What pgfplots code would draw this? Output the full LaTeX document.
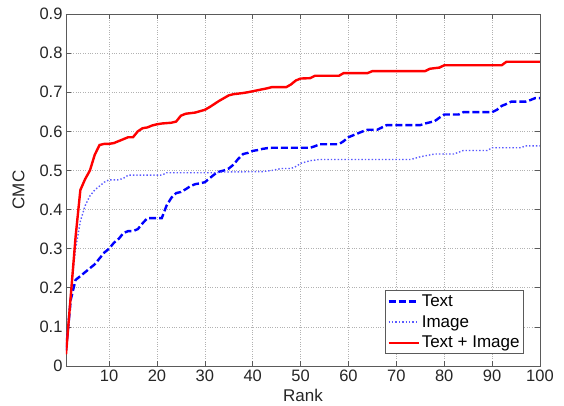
\documentclass[border=0pt]{standalone}
\usepackage{fontspec}
\setmainfont{Liberation Sans}
\usepackage{pgfplots}
\pgfplotsset{compat=1.18}

\definecolor{imgblue}{RGB}{90,90,255}
\definecolor{axgray}{RGB}{90,90,90}

\begin{document}
\begin{tikzpicture}
\begin{axis}[
    width=474pt, height=352pt,
    scale only axis,
    xmin=1, xmax=100,
    ymin=0, ymax=0.9,
    xtick={10,20,...,100},
    ytick={0,0.1,...,0.9},
    yticklabel style={/pgf/number format/fixed,/pgf/number format/precision=1},
    /pgf/number format/assume math mode=true,
    tick label style={font=\fontsize{16.5}{19}\selectfont, text=black!85},
    xlabel={Rank},
    ylabel={CMC},
    every axis x label/.style={at={(axis description cs:0.5,-0.084)}, anchor=center,
        font=\fontsize{17}{20}\selectfont, text=black!85},
    every axis y label/.style={at={(axis description cs:-0.1,0.5)}, anchor=center, rotate=90,
        font=\fontsize{17}{20}\selectfont, text=black!85},
    axis line style={axgray, line width=0.8pt},
    tick style={axgray, line width=0.6pt},
    major tick length=5pt,
    tick align=inside,
    grid=major,
    major grid style={dotted, gray!60, line width=0.6pt},
    legend style={at={(0.966,0.035)}, anchor=south east,
        font=\fontsize{17}{19}\selectfont, draw=axgray, line width=0.6pt,
        inner sep=2pt, row sep=3.5pt},
    legend cell align=left,
    legend image code/.code={\draw[#1] (0pt,0pt) -- (30pt,0pt);},
]
\addplot[blue, dashed, dash pattern=on 7pt off 3pt, line width=2.4pt] coordinates {
(1,0.04) (2,0.17) (3,0.22) (4,0.23) (5,0.24) (6,0.25) (7,0.26) (8,0.275)
(9,0.29) (10,0.30) (11,0.315) (12,0.325) (13,0.34) (14,0.345) (15,0.345)
(16,0.35) (17,0.365) (18,0.378) (19,0.378) (20,0.378) (21,0.378) (22,0.41)
(23,0.43) (24,0.442) (25,0.445) (26,0.452) (27,0.46) (28,0.465) (29,0.467)
(30,0.47) (31,0.48) (32,0.49) (33,0.497) (34,0.5) (35,0.505) (36,0.515)
(37,0.53) (38,0.542) (39,0.545) (40,0.55) (41,0.552) (42,0.555) (43,0.557)
(44,0.558) (48,0.558) (52,0.558) (53,0.562) (54,0.567) (58,0.567) (59,0.575)
(60,0.585) (61,0.59) (62,0.595) (63,0.6) (64,0.604) (66,0.604) (67,0.61)
(68,0.616) (72,0.616) (75,0.616) (76,0.62) (77,0.623) (78,0.626) (79,0.635)
(80,0.643) (83,0.643) (84,0.649) (87,0.649) (90,0.649) (91,0.655) (92,0.665)
(93,0.67) (94,0.676) (97,0.676) (98,0.68) (99,0.685) (100,0.685)
};
\addlegendentry{Text}
\addplot[imgblue, dotted, line width=1.4pt] coordinates {
(1,0.04) (2,0.19) (3,0.30) (4,0.37) (5,0.41) (6,0.435) (7,0.45) (8,0.46)
(9,0.47) (10,0.476) (12,0.476) (13,0.48) (14,0.488) (21,0.488) (22,0.494)
(32,0.494) (34,0.496) (42,0.497) (44,0.5) (46,0.505) (48,0.505) (49,0.51)
(50,0.518) (52,0.525) (54,0.528) (73,0.528) (75,0.535) (78,0.542) (82,0.542)
(84,0.551) (89,0.551) (90,0.558) (96,0.558) (97,0.563) (100,0.563)
};
\addlegendentry{Image}
\addplot[red, line width=2.4pt] coordinates {
(1,0.03) (2,0.18) (3,0.33) (4,0.45) (5,0.478) (6,0.5) (7,0.54) (8,0.565)
(9,0.568) (10,0.568) (11,0.57) (12,0.575) (13,0.58) (14,0.585) (15,0.585)
(16,0.6) (17,0.608) (18,0.61) (19,0.615) (20,0.618) (21,0.62) (23,0.622)
(24,0.625) (25,0.64) (26,0.645) (28,0.648) (30,0.655) (31,0.662) (32,0.67)
(33,0.678) (34,0.685) (35,0.692) (36,0.695) (38,0.698) (39,0.7) (41,0.705)
(43,0.71) (44,0.713) (47,0.713) (48,0.72) (49,0.73) (50,0.735) (52,0.736)
(53,0.742) (58,0.742) (59,0.749) (64,0.749) (65,0.754) (76,0.754) (77,0.76)
(79,0.763) (80,0.769) (92,0.769) (93,0.778) (100,0.778)
};
\addlegendentry{Text + Image}
\end{axis}
\pgfresetboundingbox
\path[use as bounding box] (-66pt,-40pt) rectangle (498pt,366pt);
\end{tikzpicture}
\end{document}
